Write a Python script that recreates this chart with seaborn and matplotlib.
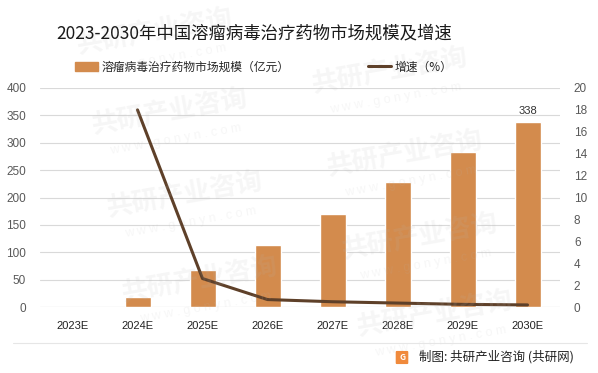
import matplotlib.pyplot as plt
import matplotlib.patches as mpatches
from matplotlib.lines import Line2D
import seaborn as sns
import pandas as pd

years = ['2023E', '2024E', '2025E', '2026E', '2027E', '2028E', '2029E', '2030E']
market_size = [0, 19, 68, 114, 169, 229, 284, 338]          # 亿元
growth = [None, 18.0, 2.6, 0.68, 0.48, 0.36, 0.24, 0.19]    # 增速

bar_color = '#D38B4D'
line_color = '#5E4029'
W, H = 598, 373

sns.set_theme(style='white')
plt.rcParams['font.family'] = ['Noto Sans CJK SC', 'DejaVu Sans']
num_font = ['Liberation Sans', 'DejaVu Sans']

df = pd.DataFrame({'year': years, 'size': market_size, 'growth': growth})

fig = plt.figure(figsize=(W / 100, H / 100), dpi=100)
ax = fig.add_axes([40 / W, 1 - 307 / H, 520 / W, 219 / H])

sns.barplot(data=df, x='year', y='size', color=bar_color, width=0.4,
            saturation=1, ax=ax, zorder=2)
ax.set_ylim(0, 400)
ax.set_yticks(range(0, 401, 50))
ax.set_xlim(-0.5, len(years) - 0.5)
ax.set_xlabel('')
ax.set_ylabel('')
ax.grid(axis='y', color='#D9D9D9', linewidth=0.8, zorder=0)
ax.tick_params(axis='y', colors='#595959', labelsize=8.5, length=0, pad=10)
ax.tick_params(axis='x', colors='#222222', labelsize=8, length=0, pad=10)
for lab in ax.get_yticklabels() + ax.get_xticklabels():
    lab.set_family(num_font)
for s in ax.spines.values():
    s.set_visible(False)
ax.axhline(0, color='#D9D9D9', linewidth=0.8, zorder=1)

# label only the last bar
ax.text(len(years) - 1, market_size[-1] + 10, str(market_size[-1]),
        ha='center', va='bottom', fontsize=8, color='#333333', family=num_font)

ax2 = ax.twinx()
sns.lineplot(data=df.dropna(), x='year', y='growth', color=line_color,
             linewidth=2.2, ax=ax2, sort=False)
ax2.set_ylim(0, 20)
ax2.set_yticks(range(0, 21, 2))
ax2.set_ylabel('')
ax2.tick_params(axis='y', colors='#595959', labelsize=8.5, length=0, pad=10)
for lab in ax2.get_yticklabels():
    lab.set_family(num_font)
for s in ax2.spines.values():
    s.set_visible(False)
ax2.grid(False)

fig.text(254 / W, 1 - 33 / H, '2023-2030年中国溶瘤病毒治疗药物市场规模及增速',
         ha='center', va='center', fontsize=12.5, color='#1a1a1a')

handles = [mpatches.Patch(color=bar_color),
           Line2D([0], [0], color=line_color, linewidth=2.2)]
fig.legend(handles, ['溶瘤病毒治疗药物市场规模（亿元）', '增速（%）'],
           loc='center left', bbox_to_anchor=(64 / W, 1 - 67 / H),
           ncol=2, frameon=False, fontsize=8.5, columnspacing=6.6,
           handlelength=2.0, handleheight=0.7, handletextpad=0.3)

# faint watermark tiles
marks = [(155, 40), (170, 120), (185, 203), (200, 288),
         (390, 79), (405, 162), (420, 245), (435, 322)]
for cx, cy in marks:
    fig.text(cx / W, 1 - (cy - 8) / H, '共研产业咨询', ha='center', va='center',
             fontsize=19, fontweight='bold', color='#B8B8B8', alpha=0.12,
             rotation=10, zorder=0)
    fig.text((cx + 6) / W, 1 - (cy + 20) / H, 'w w w . g o n y n . c o m',
             ha='center', va='center', fontsize=9, color='#B8B8B8', alpha=0.12,
             rotation=10, zorder=0, family=num_font)

# footer
fig.add_artist(Line2D([13 / W, 587 / W], [1 - 343 / H] * 2,
                      color='#E6E6E6', linewidth=0.8))
fig.add_artist(mpatches.FancyBboxPatch((397 / W, 1 - 363 / H), 10 / W, 11 / H,
                                       boxstyle='round,pad=0.001', color='#F08A3C'))
fig.text(402 / W, 1 - 357.5 / H, 'G', ha='center', va='center',
         fontsize=6, color='white', fontweight='bold')
fig.text(419 / W, 1 - 357 / H, '制图: 共研产业咨询 (共研网)',
         ha='left', va='center', fontsize=9, color='#222222')

fig.savefig('out.png', dpi=100)
